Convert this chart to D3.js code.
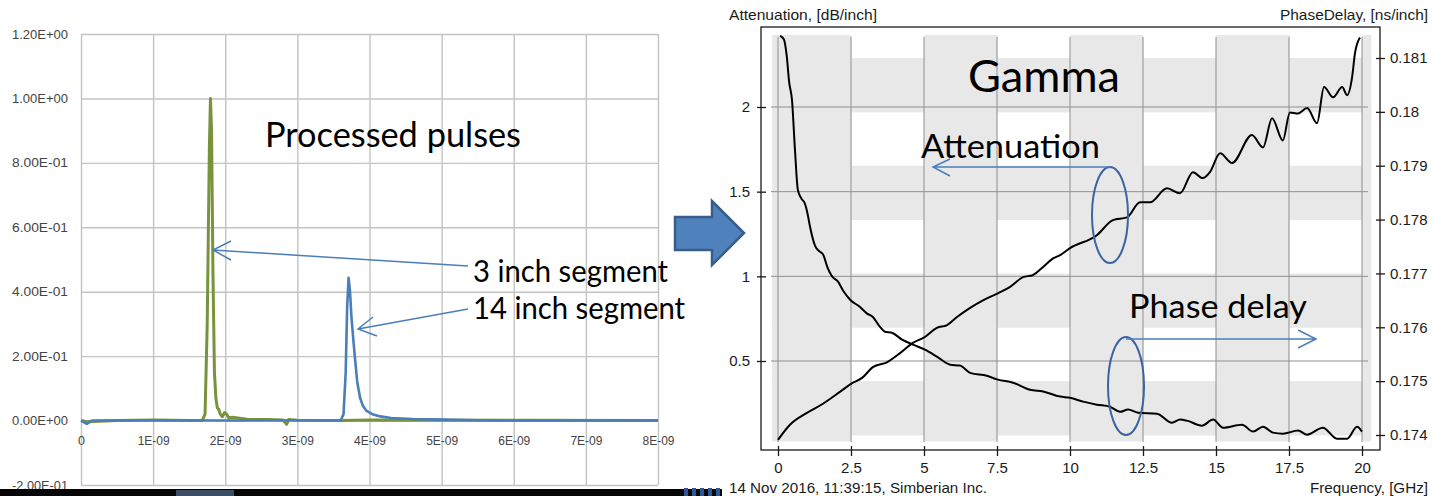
<!DOCTYPE html>
<html>
<head>
<meta charset="utf-8">
<script src="https://cdn.jsdelivr.net/npm/d3@7"></script>
<style>
  body { margin: 0; background: #fff; }
  svg { display: block; }
</style>
</head>
<body>
<svg width="1433" height="496"></svg>
<script>
// ---- left chart: processed pulses (time in ns) ----
var pulseYTicks = [-0.2, 0, 0.2, 0.4, 0.6, 0.8, 1.0, 1.2];
var pulseYLabels = ["-2.00E-01", "0.00E+00", "2.00E-01", "4.00E-01", "6.00E-01", "8.00E-01", "1.00E+00", "1.20E+00"];
var pulseXTicks = [0, 1, 2, 3, 4, 5, 6, 7, 8];
var pulseXLabels = ["0", "1E-09", "2E-09", "3E-09", "4E-09", "5E-09", "6E-09", "7E-09", "8E-09"];

var pulse3in = [[0,0],[0.1,-0.004],[0.5,0],[1.0,0.002],[1.5,0],[1.68,0],[1.72,0.02],[1.75,0.3],
  [1.78,0.85],[1.795,1.0],[1.81,0.9],[1.83,0.45],[1.85,0.15],[1.87,0.07],[1.89,0.04],[1.91,0.035],
  [1.93,0.02],[1.96,0.012],[1.99,0.025],[2.02,0.02],[2.05,0.008],[2.1,0.01],[2.3,0.004],[2.6,0.003],
  [2.8,0.002],[2.85,-0.012],[2.88,0.003],[3.0,0.001],[3.6,0],[4.0,0.002],[8,0]];

var pulse14in = [[0,0],[0.08,-0.01],[0.15,0],[1,0.001],[2,0],[3,0.001],[3.6,0],[3.64,0.02],[3.67,0.15],
  [3.69,0.35],[3.71,0.443],[3.73,0.40],[3.75,0.32],[3.78,0.24],[3.80,0.19],[3.83,0.12],[3.87,0.07],
  [3.91,0.045],[3.96,0.03],[4.04,0.02],[4.15,0.013],[4.3,0.008],[4.6,0.005],[5.0,0.003],[5.5,0.001],[6,0],[8,0]];

// ---- right chart: gamma ----
var freqTicks = [0, 2.5, 5, 7.5, 10, 12.5, 15, 17.5, 20];
var attTicks = [0.5, 1, 1.5, 2];
var delayTicks = [0.174, 0.175, 0.176, 0.177, 0.178, 0.179, 0.18, 0.181];
var stripeCols = [-0.2, 2.5, 5, 7.5, 10, 12.5, 15, 17.5, 20, 20.3];
var stripeRows = [0.18143, 0.181, 0.18, 0.179, 0.178, 0.177, 0.176, 0.175, 0.174, 0.17389];

var attenuation = [[0.07,2.42],[0.2,2.40],[0.3,2.30],[0.38,2.15],[0.48,2.04],[0.58,1.75],[0.68,1.51],
  [0.8,1.46],[0.92,1.43],[1.0,1.38],[1.1,1.29],[1.27,1.18],[1.4,1.15],[1.54,1.13],[1.7,1.05],[1.85,1.0],
  [2.05,0.97],[2.25,0.91],[2.47,0.862],[2.8,0.82],[3.05,0.78],[3.25,0.76],[3.5,0.70],[3.66,0.673],
  [3.9,0.667],[4.25,0.626],[4.62,0.597],[5.03,0.567],[5.44,0.526],[5.9,0.478],[6.23,0.473],[6.58,0.43],
  [7.15,0.413],[7.53,0.39],[8.05,0.372],[8.63,0.33],[9.08,0.32],[9.66,0.29],[10.0,0.283],[10.45,0.26],
  [10.92,0.242],[11.37,0.23],[11.71,0.20],[11.99,0.213],[12.33,0.195],[12.98,0.189],[13.49,0.136],
  [13.77,0.154],[14.0,0.148],[14.52,0.118],[14.9,0.154],[15.24,0.106],[15.89,0.124],[16.27,0.083],
  [16.61,0.112],[16.95,0.077],[17.29,0.071],[17.81,0.089],[18.12,0.065],[18.66,0.106],[19.14,0.041],
  [19.49,0.041],[19.83,0.112],[20.0,0.083]];

var phaseDelay = [[0.0,0.17391],[0.41,0.17419],[0.99,0.17441],[1.54,0.17458],[2.12,0.1748],[2.5,0.17495],
  [2.88,0.17506],[3.25,0.17526],[3.73,0.17535],[4.18,0.17552],[4.62,0.17571],[5.03,0.17582],[5.44,0.17599],
  [5.79,0.17604],[6.13,0.17619],[6.58,0.17636],[7.02,0.1765],[7.53,0.17663],[7.95,0.17675],[8.39,0.17693],
  [8.73,0.17697],[9.08,0.17712],[9.42,0.17728],[9.66,0.17734],[10.0,0.17747],[10.92,0.17771],[11.47,0.17799],
  [11.95,0.17804],[12.4,0.17832],[12.74,0.17832],[13.32,0.17858],[13.77,0.17849],[14.21,0.17888],
  [14.55,0.17877],[14.79,0.17888],[15.14,0.17923],[15.55,0.17905],[16.23,0.17957],[16.61,0.17934],
  [16.92,0.17988],[17.29,0.17947],[17.53,0.17999],[17.81,0.17997],[18.12,0.18007],[18.46,0.17979],
  [18.7,0.18046],[19.01,0.18027],[19.32,0.18046],[19.49,0.18031],[19.66,0.18064],[19.76,0.18109],[19.93,0.18138]];

var svg = d3.select("svg");
var blue = "#4a7ebb";
var sansFont = "Liberation Sans, Arial, sans-serif";

// ================= left chart =================
var px = d3.scaleLinear().domain([0, 8]).range([81, 658]);
var py = d3.scaleLinear().domain([-0.2, 1.2]).range([485, 34]);

var left = svg.append("g");

var leftY = left.append("g")
  .attr("transform", "translate(81,0)")
  .call(d3.axisLeft(py).tickValues(pulseYTicks).tickSize(-(658 - 81)).tickPadding(13)
    .tickFormat(function(d, i) { return pulseYLabels[i]; }))
  .call(function(g) { g.select(".domain").remove(); });

var leftX = left.append("g")
  .attr("transform", "translate(0,485)")
  .call(d3.axisBottom(px).tickValues(pulseXTicks).tickSize(-(485 - 34))
    .tickFormat(function(d, i) { return pulseXLabels[i]; }))
  .call(function(g) { g.select(".domain").remove(); });
leftX.selectAll(".tick text").attr("y", -40).attr("dy", null);

left.selectAll(".tick line").attr("stroke", "#c3c3c3").attr("stroke-width", 1.4);
left.selectAll(".tick text").attr("fill", "#444")
  .attr("font-size", 12.5).attr("font-family", sansFont);
leftY.selectAll(".tick text").attr("textLength", 56).attr("lengthAdjust", "spacingAndGlyphs");
leftX.selectAll(".tick text").filter(function(d) { return d > 0; })
  .attr("textLength", 32).attr("lengthAdjust", "spacingAndGlyphs");

var pline = d3.line().x(function(d) { return px(d[0]); }).y(function(d) { return py(d[1]); });

left.append("path").datum(pulse3in).attr("d", pline)
  .attr("fill", "none").attr("stroke", "#77933c").attr("stroke-width", 3).attr("stroke-linejoin", "round");
left.append("path").datum(pulse14in).attr("d", pline)
  .attr("fill", "none").attr("stroke", blue).attr("stroke-width", 2.6).attr("stroke-linejoin", "round");

function bigText(g, str, x, y, size, len) {
  g.append("text").attr("x", x).attr("y", y).text(str)
    .attr("textLength", len).attr("lengthAdjust", "spacingAndGlyphs")
    .attr("font-family", "Lato, 'Open Sans', sans-serif").attr("font-size", size)
    .attr("fill", "#000");
}
function arrow(g, x1, y1, x2, y2, hx1, hy1, hx2, hy2) {
  g.append("path")
    .attr("d", "M" + x1 + "," + y1 + "L" + x2 + "," + y2 + "M" + hx1 + "," + hy1 + "L" + x2 + "," + y2 + "L" + hx2 + "," + hy2)
    .attr("fill", "none").attr("stroke", blue).attr("stroke-width", 1.5);
}

bigText(left, "Processed pulses", 265, 147, 34, 256);
bigText(left, "3 inch segment", 473, 282, 30, 195);
bigText(left, "14 inch segment", 473, 319, 30, 212);
arrow(left, 468, 266, 213, 250, 231, 241, 231, 260);
arrow(left, 468, 309, 358, 329, 373, 317, 377, 336);

// block arrow between charts
svg.append("path")
  .attr("d", "M675,217L712,217L712,201L744,233L712,265L712,250L675,250Z")
  .attr("fill", "#4f81bd").attr("stroke", "#385d8a").attr("stroke-width", 2.5);

// dark strip at the bottom of the slide
svg.append("rect").attr("x", 0).attr("y", 489).attr("width", 722).attr("height", 7).attr("fill", "#050505");
svg.append("rect").attr("x", 176).attr("y", 490).attr("width", 58).attr("height", 6).attr("fill", "#7fa7d6").attr("opacity", 0.45);
[684, 692, 700, 708, 716].forEach(function(x) {
  svg.append("rect").attr("x", x).attr("y", 488).attr("width", 4).attr("height", 8).attr("fill", "#2f5597");
});

// ================= right chart =================
var fx = d3.scaleLinear().domain([0, 20]).range([778, 1362]);
var ya = d3.scaleLinear().domain([0.5, 2]).range([361, 107]);
var yd = d3.scaleLinear().domain([0.174, 0.181]).range([435, 58]);

var right = svg.append("g");

// striped background: every other column band plus every other row band
var cells = [];
for (var c = 0; c < stripeCols.length - 1; c++) {
  for (var r = 0; r < stripeRows.length - 1; r++) {
    if (c % 2 === 0 || r % 2 === 1) cells.push({ c: c, r: r });
  }
}
right.selectAll("rect.cell").data(cells).enter().append("rect").attr("class", "cell")
  .attr("x", function(d) { return fx(stripeCols[d.c]); })
  .attr("width", function(d) { return fx(stripeCols[d.c + 1]) - fx(stripeCols[d.c]) + 0.5; })
  .attr("y", function(d) { return yd(stripeRows[d.r]); })
  .attr("height", function(d) { return yd(stripeRows[d.r + 1]) - yd(stripeRows[d.r]) + 0.5; })
  .attr("fill", "#e8e8e8");

// grid lines
right.selectAll("line.vg").data(freqTicks).enter().append("line")
  .attr("x1", fx).attr("x2", fx).attr("y1", 37).attr("y2", 442)
  .attr("stroke", "#8f8f8f").attr("stroke-width", 1);
right.selectAll("line.hg").data(attTicks).enter().append("line")
  .attr("y1", ya).attr("y2", ya).attr("x1", 771).attr("x2", 1368)
  .attr("stroke", "#8f8f8f").attr("stroke-width", 1);

// frame
right.append("rect").attr("x", 761).attr("y", 27).attr("width", 1380 - 761).attr("height", 450 - 27)
  .attr("fill", "none").attr("stroke", "#1a1a1a").attr("stroke-width", 1.3);

var tickFont = function(sel) {
  sel.attr("font-size", 15).attr("font-family", sansFont);
  sel.selectAll("text").attr("fill", "#1a1a1a");
  sel.selectAll("line").attr("stroke", "#1a1a1a").attr("stroke-width", 1.3);
  sel.select(".domain").remove();
};

right.append("g").attr("transform", "translate(766,0)")
  .call(d3.axisLeft(ya).tickValues(attTicks).tickSize(9).tickPadding(7).tickFormat(d3.format("")))
  .call(tickFont);
right.append("g").attr("transform", "translate(1376,0)")
  .call(d3.axisRight(yd).tickValues(delayTicks).tickSize(9).tickPadding(5).tickFormat(d3.format("")))
  .call(tickFont);
right.append("g").attr("transform", "translate(0,446)")
  .call(d3.axisBottom(fx).tickValues(freqTicks).tickSize(10).tickPadding(6).tickFormat(d3.format("")))
  .call(tickFont);

var la = d3.line().curve(d3.curveMonotoneX).x(function(d) { return fx(d[0]); }).y(function(d) { return ya(d[1]); });
var ld = d3.line().curve(d3.curveMonotoneX).x(function(d) { return fx(d[0]); }).y(function(d) { return yd(d[1]); });

right.append("path").datum(attenuation).attr("d", la)
  .attr("fill", "none").attr("stroke", "#000").attr("stroke-width", 2).attr("stroke-linejoin", "round");
right.append("path").datum(phaseDelay).attr("d", ld)
  .attr("fill", "none").attr("stroke", "#000").attr("stroke-width", 2).attr("stroke-linejoin", "round");

function smallText(str, x, y, anchor, len) {
  svg.append("text").attr("x", x).attr("y", y).text(str).attr("text-anchor", anchor)
    .attr("textLength", len).attr("lengthAdjust", "spacingAndGlyphs")
    .attr("font-family", sansFont).attr("font-size", 15).attr("fill", "#1a1a1a");
}
smallText("Attenuation, [dB/inch]", 729, 20, "start", 148);
smallText("PhaseDelay, [ns/inch]", 1428, 20, "end", 148);
smallText("14 Nov 2016, 11:39:15, Simberian Inc.", 729, 493, "start", 258);
smallText("Frequency, [GHz]", 1428, 493, "end", 118);

// annotations
bigText(right, "Gamma", 968, 92, 44, 152);
bigText(right, "Attenuation", 921, 158, 33, 179);
bigText(right, "Phase delay", 1129, 318, 33, 178);

right.append("ellipse").attr("cx", 1110).attr("cy", 215).attr("rx", 18).attr("ry", 48)
  .attr("fill", "none").attr("stroke", "#3b64a0").attr("stroke-width", 2);
right.append("ellipse").attr("cx", 1126).attr("cy", 386).attr("rx", 18).attr("ry", 49)
  .attr("fill", "none").attr("stroke", "#3b64a0").attr("stroke-width", 2);
arrow(right, 1110, 167, 933, 167, 950, 159, 950, 176);
arrow(right, 1126, 339, 1316, 339, 1298, 330, 1298, 348);
</script>
</body>
</html>
